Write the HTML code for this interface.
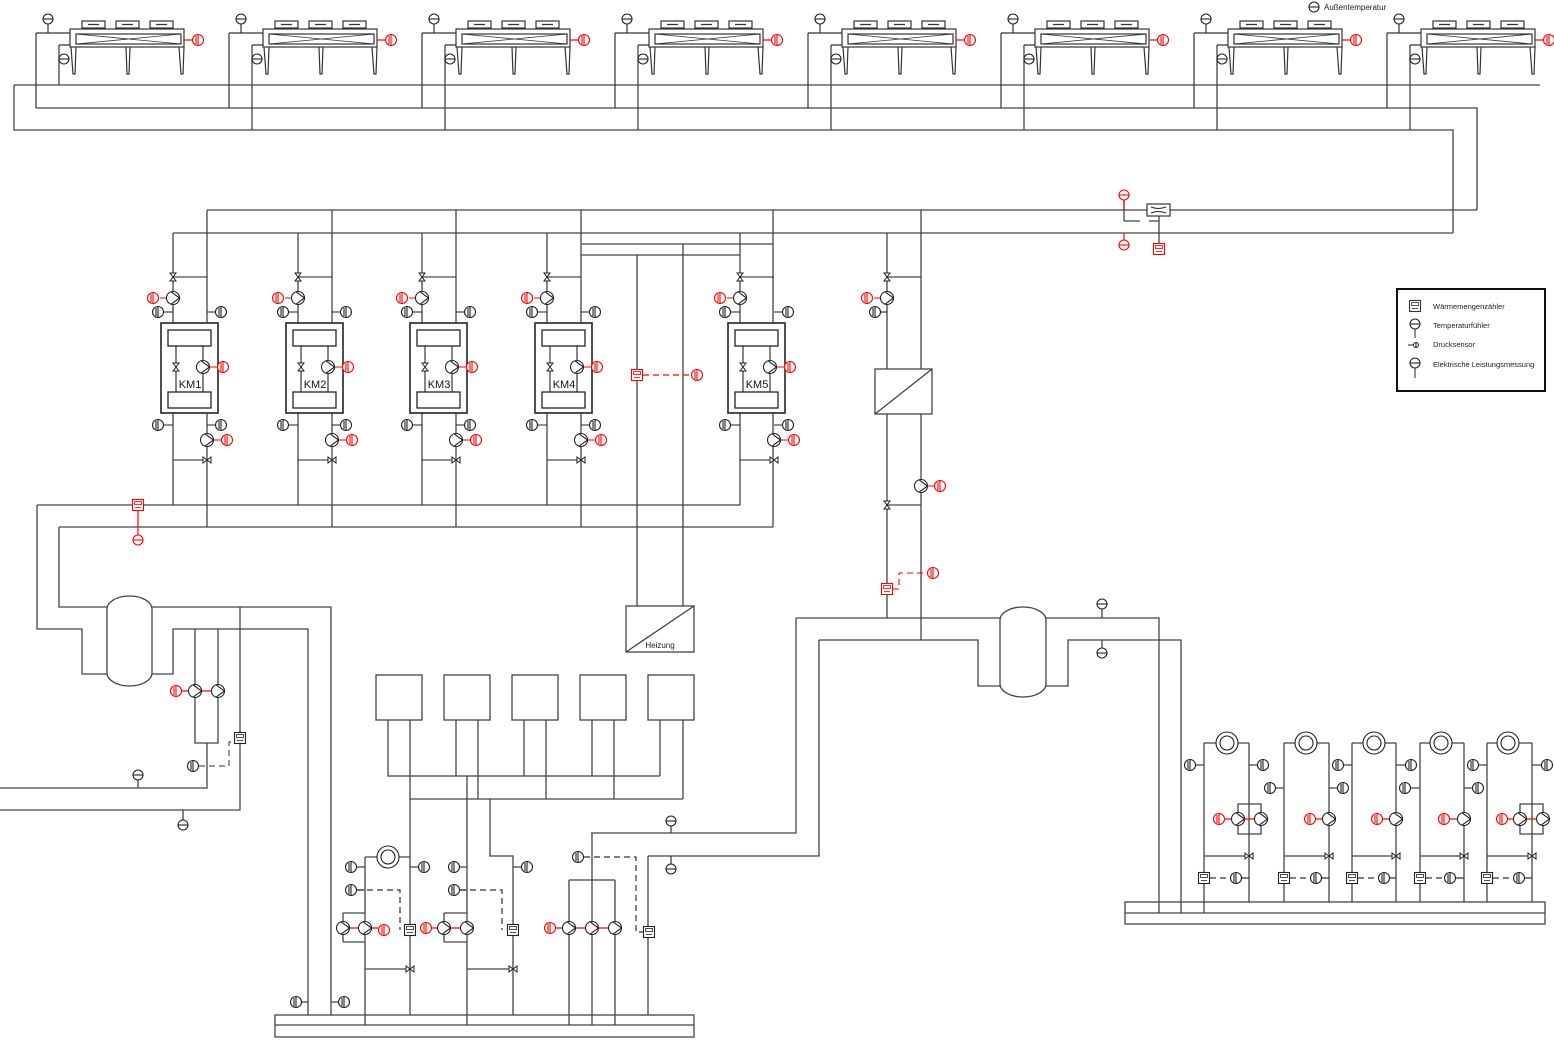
<!DOCTYPE html>
<html><head><meta charset="utf-8"><style>
html,body{margin:0;padding:0;background:#fff;}
svg{display:block;}
text{font-family:"Liberation Sans",sans-serif;}
</style></head><body>
<svg width="1554" height="1040" viewBox="0 0 1554 1040" xmlns="http://www.w3.org/2000/svg">
<defs>
<g id="g" fill="#fff" stroke="currentColor" stroke-width="1.1"><circle r="5.5"/><line x1="0" y1="-5.5" x2="0" y2="5.5"/><line x1="-2" y1="-4" x2="-2" y2="4"/></g>
<g id="t" fill="#fff" stroke="currentColor" stroke-width="1.1"><circle r="5"/><line x1="-5" y1="0" x2="5" y2="0"/></g>
<g id="p" fill="#fff" stroke="#222" stroke-width="1.1"><circle r="6.5"/><path d="M-2,-6.2 L6.5,0 L-2,6.2" fill="none"/></g>
<g id="m" stroke="currentColor" stroke-width="1.1" fill="#fff"><rect x="-5.5" y="-5.5" width="11" height="11"/><rect x="-3.5" y="-3.5" width="7" height="3" fill="none" stroke-width="0.8"/><line x1="-3" y1="2.5" x2="3" y2="2.5" stroke-width="0.8"/></g>
<g id="v" stroke="#222" stroke-width="1" fill="#fff"><path d="M-3,-4 H3 L-3,4 H3 Z"/></g>
<g id="vh" stroke="#222" stroke-width="1" fill="#fff"><path d="M-4,-3 V3 L4,-3 V3 Z"/></g>
<g id="ring" fill="#fff" stroke="#222" stroke-width="1.1"><circle r="11"/><circle r="7"/></g>

<g id="cool" stroke="#333" stroke-width="1.2" fill="none">
 <rect x="70" y="29" width="114" height="18" fill="#fff"/>
 <rect x="76" y="34" width="105" height="10"/>
 <path d="M76,34 L181,44 M76,44 L181,34" stroke-width="0.8"/>
 <rect x="82" y="21" width="23" height="7"/><rect x="116" y="21" width="23" height="7"/><rect x="150" y="21" width="23" height="7"/>
 <path d="M88,24.5 H99 M122,24.5 H133 M156,24.5 H167" stroke-width="1.2"/>
 <path d="M71,47 L73,74 L75,74 L76,47 M126,47 L127,74 L129,74 L130,47 M179,47 L181,74 L183,74 L184,47"/>
 <path d="M48,24 V33 M36,33 H70 M36,33 V108 M59,45 H70"/>
 <line x1="184" y1="40" x2="192" y2="40" stroke="red"/>
</g>

<g id="km" stroke="#222" stroke-width="1.1" fill="none">
 <rect x="161" y="323" width="57" height="90" fill="#fff" stroke-width="1.6"/>
 <rect x="168" y="330" width="43" height="16" stroke-width="1.3"/>
 <rect x="168" y="392" width="43" height="16" stroke-width="1.3"/>
 <path d="M176,346 V392 M203,346 V392 M173,277 H207 M173,460 H207 M164,312 H173 M207,312 H215 M164,425 H173 M207,425 H215"/>
 <path d="M160,298 H166 M210,367 H217 M214,440 H221" stroke="red"/>
 <use href="#p" x="203" y="367"/><use href="#v" x="176" y="367"/>
 <use href="#v" x="173" y="277"/><use href="#p" x="173" y="298"/>
 <use href="#g" x="153" y="298" style="color:red"/><use href="#g" x="223" y="367" style="color:red"/>
 <use href="#g" x="158" y="312" style="color:#222"/><use href="#g" x="221" y="312" style="color:#222"/>
 <use href="#g" x="158" y="425" style="color:#222"/><use href="#g" x="221" y="425" style="color:#222"/>
 <use href="#p" x="207" y="440"/><use href="#g" x="227" y="440" style="color:red"/>
 <use href="#vh" x="207" y="460"/>
</g>
</defs>

<g stroke="#444" stroke-width="1.3" fill="none">
 <path d="M14,85 H1540 M14,85 V130 H1453 V233 M36,108 H1477 V210"/>
 <path d="M59,45 V85 M252,45 V130 M445,45 V130 M638,45 V130 M831,45 V130 M1024,45 V130 M1217,45 V130 M1410,45 V130"/>
 <path d="M207,210 H1477 M173,233 H1453"/>
 <path d="M173,233 V505 M207,210 V527 M298,233 V505 M332,210 V527 M422,233 V505 M456,210 V527 M547,233 V505 M581,210 V527 M740,233 V505 M773,210 V527"/>
 <path d="M37,505 H740 M59,527 H773"/>
 <path d="M581,244 H773 M581,255 H740 M637,255 V606 M683,244 V606"/>
 <path d="M37,505 V629 H82 V674 H107 M59,527 V607 H107 M152,607 H331 V1015 M152,674 H173 V629 H308 V1015"/>
 <path d="M195,629 V743 H218 V629 M207,743 V788 H0 M240,607 V810 H0 M138,780 V788 M183,810 V820"/>
 <rect x="107" y="596" width="45" height="90" rx="22.5" ry="13" fill="#fff"/>
 <path d="M887,233 V618 M921,210 V640 M887,277 H921 M887,505 H921"/>
 <rect x="875" y="369" width="57" height="45" fill="#fff"/><path d="M875,414 L932,369"/>
 <path d="M796,618 H1000 M1046,618 H1159 V913 M819,640 H978 V686 H1000 M1046,686 H1068 V640 H1181 V913"/>
 <rect x="1000" y="607" width="46" height="90" rx="23" ry="13" fill="#fff"/>
 <path d="M1102,609 V618 M1102,640 V648"/>
 <path d="M796,618 V833 H591 M819,640 V856 H648 M648,856 V1015 M671,826 V833 M671,856 V864"/>
 <rect x="376" y="675" width="46" height="45"/><rect x="444" y="675" width="46" height="45"/><rect x="512" y="675" width="46" height="45"/><rect x="580" y="675" width="46" height="45"/><rect x="648" y="675" width="46" height="45"/>
 <path d="M388,720 V776 H660 M410,720 V799 H683 M456,720 V776 M478,720 V799 M524,720 V776 M546,720 V799 M592,720 V776 M614,720 V799 M660,720 V776 M683,720 V799"/>
 <path d="M467,776 V1025 M490,799 V856 H513 V1015 M410,799 V1015"/>
 <path d="M365,857 V1025 M365,857 H377 M399,857 H410 M357,867 H365 M410,867 H418 M357,890 H365 M410,969 H365 M343,913 V942 M343,913 H365 M343,942 H365"/>
 <path d="M460,867 H467 M513,867 H521 M460,890 H467 M513,969 H467 M444,913 V942 M444,913 H467 M444,942 H467"/>
 <path d="M569,880 V1025 M592,833 V1025 M615,880 V1025 M569,880 H615"/>
 <path d="M302,1002 H308 M331,1002 H338"/>
 <rect x="275" y="1015" width="419" height="22"/><path d="M275,1025 H694"/>
 <rect x="1125" y="902" width="420" height="22"/><path d="M1125,913 H1545"/>
 <path d="M1204,743 V913 M1249,743 V902 M1204,743 H1216 M1238,743 H1249 M1196,765 H1204 M1249,765 H1257 M1238,804 V834 H1261 V804 Z M1249,804 V834 M1204,856 H1249"/>
 <path d="M1284,743 V902 M1329,743 V902 M1284,743 H1295 M1317,743 H1329 M1276,788 H1284 M1329,788 H1337 M1284,856 H1329"/>
 <path d="M1352,743 V902 M1396,743 V902 M1352,743 H1363 M1385,743 H1396 M1344,765 H1352 M1396,765 H1405 M1352,856 H1396"/>
 <path d="M1420,743 V902 M1464,743 V902 M1420,743 H1430 M1452,743 H1464 M1411,788 H1420 M1464,788 H1472 M1420,856 H1464"/>
 <path d="M1487,743 V902 M1532,743 V902 M1487,743 H1497 M1519,743 H1532 M1479,765 H1487 M1532,765 H1541 M1520,804 V834 H1543 V804 Z M1532,804 V834 M1487,856 H1532"/>
 <path d="M1124,221 H1140 M1149,221 H1159 V233 M1124,200 V221 M1159,216 V244"/>
 <rect x="626" y="606" width="68" height="46" fill="#fff"/><path d="M626,652 L694,606"/>
</g>

<use href="#cool" x="0"/><use href="#cool" x="193"/><use href="#cool" x="386"/><use href="#cool" x="579"/>
<use href="#cool" x="772"/><use href="#cool" x="965"/><use href="#cool" x="1158"/><use href="#cool" x="1351"/>
<g style="color:#222">
<use href="#t" x="48" y="19"/><use href="#t" x="241" y="19"/><use href="#t" x="434" y="19"/><use href="#t" x="627" y="19"/><use href="#t" x="820" y="19"/><use href="#t" x="1013" y="19"/><use href="#t" x="1206" y="19"/><use href="#t" x="1399" y="19"/>
<use href="#t" x="64" y="59"/><use href="#t" x="257" y="59"/><use href="#t" x="450" y="59"/><use href="#t" x="643" y="59"/><use href="#t" x="836" y="59"/><use href="#t" x="1029" y="59"/><use href="#t" x="1222" y="59"/><use href="#t" x="1415" y="59"/>
</g>
<g style="color:red">
<use href="#g" x="198" y="40"/><use href="#g" x="391" y="40"/><use href="#g" x="584" y="40"/><use href="#g" x="777" y="40"/><use href="#g" x="970" y="40"/><use href="#g" x="1163" y="40"/><use href="#g" x="1356" y="40"/><use href="#g" x="1549" y="40"/>
</g>
<use href="#t" x="1314" y="7" style="color:#222"/>
<text x="1324" y="10" font-size="8" fill="#222">Außentemperatur</text>

<use href="#km" x="0"/><use href="#km" x="125"/><use href="#km" x="249"/><use href="#km" x="374"/><use href="#km" x="567"/>
<g font-size="11" fill="#111" text-anchor="middle">
<text x="190" y="388">KM1</text><text x="315" y="388">KM2</text><text x="439" y="388">KM3</text><text x="564" y="388">KM4</text><text x="757" y="388">KM5</text>
</g>

<path d="M643,375 H691" stroke="red" stroke-width="1.2" stroke-dasharray="6,4" fill="none"/>
<use href="#m" x="637" y="375" style="color:red"/><use href="#g" x="697" y="375" style="color:red"/>
<text x="660" y="648" font-size="8" fill="#222" text-anchor="middle">Heizung</text>

<g stroke-width="1.1" fill="none">
<path d="M874,298 H880 M927,486 H934" stroke="red"/>
<path d="M881,312 H887" stroke="#222"/>
<path d="M893,589 H899 V573 H927" stroke="red" stroke-dasharray="6,4"/>
</g>
<use href="#v" x="887" y="277"/><use href="#p" x="887" y="298"/><use href="#g" x="867" y="298" style="color:red"/><use href="#g" x="875" y="312" style="color:#222"/>
<use href="#p" x="921" y="486"/><use href="#g" x="940" y="486" style="color:red"/>
<use href="#v" x="887" y="505"/>
<use href="#m" x="887" y="589" style="color:red"/><use href="#g" x="933" y="573" style="color:red"/>

<rect x="1147" y="204" width="23" height="12" fill="#fff" stroke="#222" stroke-width="1.1"/>
<path d="M1151,207 Q1158,210 1166,207 M1151,213 Q1158,210 1166,213" stroke="#222" fill="none"/>
<path d="M1124,200 V210 M1124,233 V240" stroke="red" stroke-width="1.2"/>
<use href="#t" x="1124" y="195" style="color:red"/><use href="#t" x="1124" y="245" style="color:red"/>
<use href="#m" x="1159" y="249" style="color:red"/>

<path d="M138,511 V535" stroke="red" stroke-width="1.2"/>
<use href="#m" x="138" y="505" style="color:red"/><use href="#t" x="138" y="540" style="color:red"/>
<path d="M182,691 H218" stroke="red" stroke-width="1.2"/>
<use href="#p" x="195" y="691"/><use href="#p" x="218" y="691"/><use href="#g" x="176" y="691" style="color:red"/>
<path d="M199,766 H229 V742 H234" stroke="#555" stroke-dasharray="6,4" fill="none" stroke-width="1.2"/>
<use href="#g" x="193" y="766" style="color:#222"/><use href="#m" x="240" y="738" style="color:#222"/>
<use href="#t" x="138" y="775" style="color:#222"/><use href="#t" x="183" y="825" style="color:#222"/>

<use href="#t" x="1102" y="604" style="color:#222"/><use href="#t" x="1102" y="653" style="color:#222"/>
<use href="#t" x="671" y="821" style="color:#222"/><use href="#t" x="671" y="869" style="color:#222"/>

<use href="#ring" x="388" y="857"/>
<path d="M357,890 H400 V930 M460,890 H502 V930 M584,857 H636 V932 H643" stroke="#333" stroke-dasharray="6,4" fill="none" stroke-width="1.2"/>
<path d="M343,928 H378 M432,928 H467 M556,928 H615" stroke="red" stroke-width="1.2"/>
<g style="color:#222">
<use href="#g" x="351" y="867"/><use href="#g" x="424" y="867"/><use href="#g" x="351" y="890"/>
<use href="#g" x="454" y="867"/><use href="#g" x="527" y="867"/><use href="#g" x="454" y="890"/>
<use href="#g" x="578" y="857"/><use href="#g" x="296" y="1002"/><use href="#g" x="344" y="1002"/>
<use href="#m" x="410" y="930"/><use href="#m" x="513" y="930"/><use href="#m" x="649" y="932"/>
</g>
<use href="#p" x="343" y="928"/><use href="#p" x="365" y="928"/><use href="#g" x="384" y="930" style="color:red"/>
<use href="#p" x="444" y="928"/><use href="#p" x="467" y="928"/><use href="#g" x="426" y="928" style="color:red"/>
<use href="#p" x="569" y="928"/><use href="#p" x="592" y="928"/><use href="#p" x="615" y="928"/><use href="#g" x="550" y="928" style="color:red"/>
<use href="#vh" x="410" y="969"/><use href="#vh" x="513" y="969"/>

<use href="#ring" x="1227" y="743"/><use href="#ring" x="1306" y="743"/><use href="#ring" x="1374" y="743"/><use href="#ring" x="1441" y="743"/><use href="#ring" x="1508" y="743"/>
<path d="M1225,819 H1261 M1316,819 H1329 M1383,819 H1396 M1450,819 H1464 M1508,819 H1543" stroke="red" stroke-width="1.2"/>
<path d="M1210,878 H1230 M1290,878 H1312 M1358,878 H1380 M1426,878 H1446 M1493,878 H1513" stroke="#333" stroke-dasharray="6,4" stroke-width="1.2"/>
<path d="M1242,878 H1249 M1322,878 H1329 M1390,878 H1396 M1456,878 H1464 M1525,878 H1532" stroke="#333" stroke-width="1.2"/>
<g style="color:#222">
<use href="#g" x="1190" y="765"/><use href="#g" x="1263" y="765"/>
<use href="#g" x="1270" y="788"/><use href="#g" x="1343" y="788"/>
<use href="#g" x="1338" y="765"/><use href="#g" x="1411" y="765"/>
<use href="#g" x="1405" y="788"/><use href="#g" x="1478" y="788"/>
<use href="#g" x="1473" y="765"/><use href="#g" x="1547" y="765"/>
<use href="#g" x="1236" y="878"/><use href="#g" x="1316" y="878"/><use href="#g" x="1384" y="878"/><use href="#g" x="1450" y="878"/><use href="#g" x="1519" y="878"/>
<use href="#m" x="1204" y="878"/><use href="#m" x="1284" y="878"/><use href="#m" x="1352" y="878"/><use href="#m" x="1420" y="878"/><use href="#m" x="1487" y="878"/>
</g>
<use href="#p" x="1238" y="819"/><use href="#p" x="1261" y="819"/><use href="#g" x="1219" y="819" style="color:red"/>
<use href="#p" x="1329" y="819"/><use href="#g" x="1310" y="819" style="color:red"/>
<use href="#p" x="1396" y="819"/><use href="#g" x="1377" y="819" style="color:red"/>
<use href="#p" x="1464" y="819"/><use href="#g" x="1444" y="819" style="color:red"/>
<use href="#p" x="1520" y="819"/><use href="#p" x="1543" y="819"/><use href="#g" x="1502" y="819" style="color:red"/>
<use href="#vh" x="1249" y="856"/><use href="#vh" x="1329" y="856"/><use href="#vh" x="1396" y="856"/><use href="#vh" x="1464" y="856"/><use href="#vh" x="1532" y="856"/>

<rect x="1397" y="289" width="148" height="102" fill="#fff" stroke="#111" stroke-width="2"/>
<use href="#m" x="1415" y="306" style="color:#333"/>
<use href="#t" x="1415" y="324" style="color:#222"/><line x1="1415" y1="329" x2="1415" y2="338" stroke="#222"/>
<line x1="1408" y1="345" x2="1413" y2="345" stroke="#222"/><circle cx="1416" cy="345" r="2.5" fill="#fff" stroke="#222"/><line x1="1416" y1="342" x2="1416" y2="348" stroke="#222"/>
<use href="#t" x="1415" y="363" style="color:#222"/><line x1="1415" y1="368" x2="1415" y2="378" stroke="#222"/>
<g font-size="7.5" fill="#222">
<text x="1433" y="309">Wärmemengenzähler</text>
<text x="1433" y="328">Temperaturfühler</text>
<text x="1433" y="347">Drucksensor</text>
<text x="1433" y="367">Elektrische Leistungsmessung</text>
</g>
</svg>
</body></html>
